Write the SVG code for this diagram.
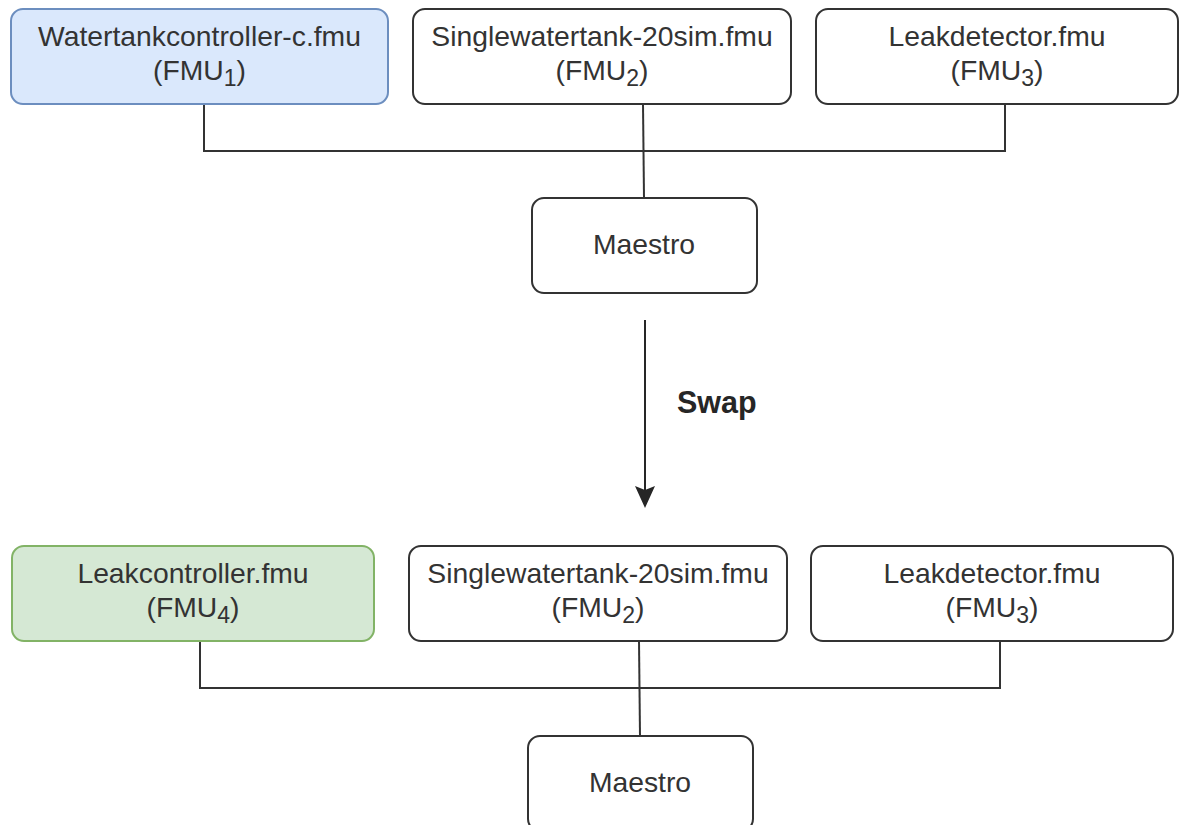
<svg xmlns="http://www.w3.org/2000/svg" width="1181" height="825" viewBox="0 0 1181 825">
<defs>
<style>
.box{fill:#ffffff;stroke:#333333;stroke-width:2}
.blue{fill:#dae8fc;stroke:#6c8ebf}
.green{fill:#d5e8d4;stroke:#82b366}
.t{font-family:"Liberation Sans",Arial,sans-serif;font-size:28.3px;fill:#333333;text-anchor:middle}
.sub{font-size:23px}
.edge{fill:none;stroke:#333333;stroke-width:2}
.swap{font-family:"Liberation Sans",Arial,sans-serif;font-size:30.5px;font-weight:bold;fill:#262626}
</style>
</defs>
<g id="connectors">
<path class="edge" d="M204,104 V151 H1005 V104"/>
<path class="edge" d="M643,104 L644,198"/>
<path class="edge" d="M200,641 V688 H1000 V641"/>
<path class="edge" d="M639,641 L640,736"/>
<path d="M645,320 V506" stroke="#262626" stroke-width="2" fill="none"/>
<path d="M635,486 L645,508 L655,486 L645,490 Z" fill="#262626"/>
</g>
<g id="fmu1">
<rect class="box blue" x="11" y="9" width="377" height="95" rx="12"/>
<text class="t" x="199.5" y="46">Watertankcontroller-c.fmu</text>
<text class="t" x="199.5" y="80">(FMU<tspan class="sub" dy="6">1</tspan><tspan dy="-6">)</tspan></text>
</g>
<g id="fmu2-top">
<rect class="box" x="413" y="9" width="378" height="95" rx="12"/>
<text class="t" x="602" y="46">Singlewatertank-20sim.fmu</text>
<text class="t" x="602" y="80">(FMU<tspan class="sub" dy="6">2</tspan><tspan dy="-6">)</tspan></text>
</g>
<g id="fmu3-top">
<rect class="box" x="816" y="9" width="362" height="95" rx="12"/>
<text class="t" x="997" y="46">Leakdetector.fmu</text>
<text class="t" x="997" y="80">(FMU<tspan class="sub" dy="6">3</tspan><tspan dy="-6">)</tspan></text>
</g>
<g id="maestro-top">
<rect class="box" x="532" y="198" width="225" height="95" rx="12"/>
<text class="t" x="644" y="254">Maestro</text>
</g>
<g id="swap-label">
<text class="swap" x="677" y="413">Swap</text>
</g>
<g id="fmu4">
<rect class="box green" x="12" y="546" width="362" height="95" rx="12"/>
<text class="t" x="193" y="583">Leakcontroller.fmu</text>
<text class="t" x="193" y="617">(FMU<tspan class="sub" dy="6">4</tspan><tspan dy="-6">)</tspan></text>
</g>
<g id="fmu2-bottom">
<rect class="box" x="409" y="546" width="378" height="95" rx="12"/>
<text class="t" x="598" y="583">Singlewatertank-20sim.fmu</text>
<text class="t" x="598" y="617">(FMU<tspan class="sub" dy="6">2</tspan><tspan dy="-6">)</tspan></text>
</g>
<g id="fmu3-bottom">
<rect class="box" x="811" y="546" width="362" height="95" rx="12"/>
<text class="t" x="992" y="583">Leakdetector.fmu</text>
<text class="t" x="992" y="617">(FMU<tspan class="sub" dy="6">3</tspan><tspan dy="-6">)</tspan></text>
</g>
<g id="maestro-bottom">
<rect class="box" x="528" y="736" width="225" height="95" rx="12"/>
<text class="t" x="640" y="792">Maestro</text>
</g>
</svg>
